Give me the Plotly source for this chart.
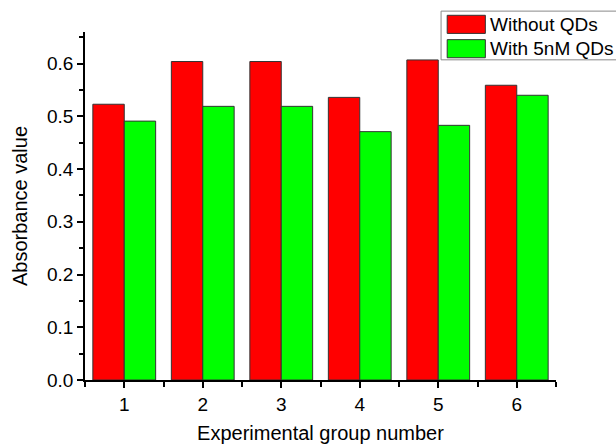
import plotly.graph_objects as go

groups = [1, 2, 3, 4, 5, 6]
without_qds = [0.523, 0.604, 0.604, 0.536, 0.607, 0.559]
with_qds = [0.491, 0.519, 0.519, 0.471, 0.483, 0.540]
series_names = ["Without QDs", "With 5nM QDs"]
series_colors = ["#ff0000", "#00ff00"]
y_ticks = [0.0, 0.1, 0.2, 0.3, 0.4, 0.5, 0.6]

FONT = "Liberation Sans, Arial, sans-serif"

fig = go.Figure()
for name, vals, col in zip(series_names, [without_qds, with_qds], series_colors):
    fig.add_trace(go.Bar(
        x=groups, y=vals, name=name,
        marker=dict(color=col, line=dict(color="#333333", width=1)),
        showlegend=False,
    ))

# Manual legend (larger swatches like the original)
L, R, T = 0.756, 1.14, 1.06
row_h = 0.07
shapes = [dict(type="rect", xref="paper", yref="paper", x0=L, x1=R, y0=T - 2 * row_h - 0.0, y1=T,
               line=dict(color="#888888", width=1), fillcolor="white", layer="above")]
annotations = []
for i, (name, col) in enumerate(zip(series_names, series_colors)):
    yc = T - 0.003 - row_h * (i + 0.5)
    shapes.append(dict(type="rect", xref="paper", yref="paper",
                       x0=L + 0.013, x1=L + 0.094, y0=yc - 0.026, y1=yc + 0.026,
                       fillcolor=col, line=dict(color="#333333", width=1), layer="above"))
    annotations.append(dict(xref="paper", yref="paper", x=L + 0.1, y=yc, text=name,
                            showarrow=False, xanchor="left", yanchor="middle",
                            font=dict(size=19, color="black", family=FONT)))

fig.update_layout(
    width=616, height=444,
    margin=dict(l=85, r=60, t=32, b=64),
    paper_bgcolor="white", plot_bgcolor="white",
    barmode="group", bargap=0.2, bargroupgap=0,
    font=dict(family=FONT, color="black", size=19),
    shapes=shapes, annotations=annotations,
    xaxis=dict(
        range=[0.5, 6.5], tickmode="array", tickvals=groups, ticktext=[str(g) for g in groups],
        showline=True, linecolor="black", linewidth=1.5, ticks="outside", ticklen=6,
        tickwidth=1.5, tickcolor="black", showgrid=False, zeroline=False, automargin=False,
        minor=dict(tickmode="linear", tick0=0.5, dtick=1, ticks="outside", ticklen=5,
                   tickwidth=1.5, tickcolor="black", showgrid=False),
        title=dict(text="Experimental group number", font=dict(size=20), standoff=14),
        tickfont=dict(size=19),
    ),
    yaxis=dict(
        range=[0, 0.66], tickmode="array", tickvals=y_ticks,
        ticktext=[f"{v:.1f}" for v in y_ticks],
        showline=True, linecolor="black", linewidth=1.5, ticks="outside", ticklen=6,
        tickwidth=1.5, tickcolor="black", showgrid=False, zeroline=False, automargin=False,
        minor=dict(tickmode="linear", tick0=0.05, dtick=0.1, ticks="outside", ticklen=4,
                   tickwidth=1.5, tickcolor="black", showgrid=False),
        title=dict(text="Absorbance value", font=dict(size=20), standoff=14),
        tickfont=dict(size=19),
    ),
)

fig.write_html("out.html")
